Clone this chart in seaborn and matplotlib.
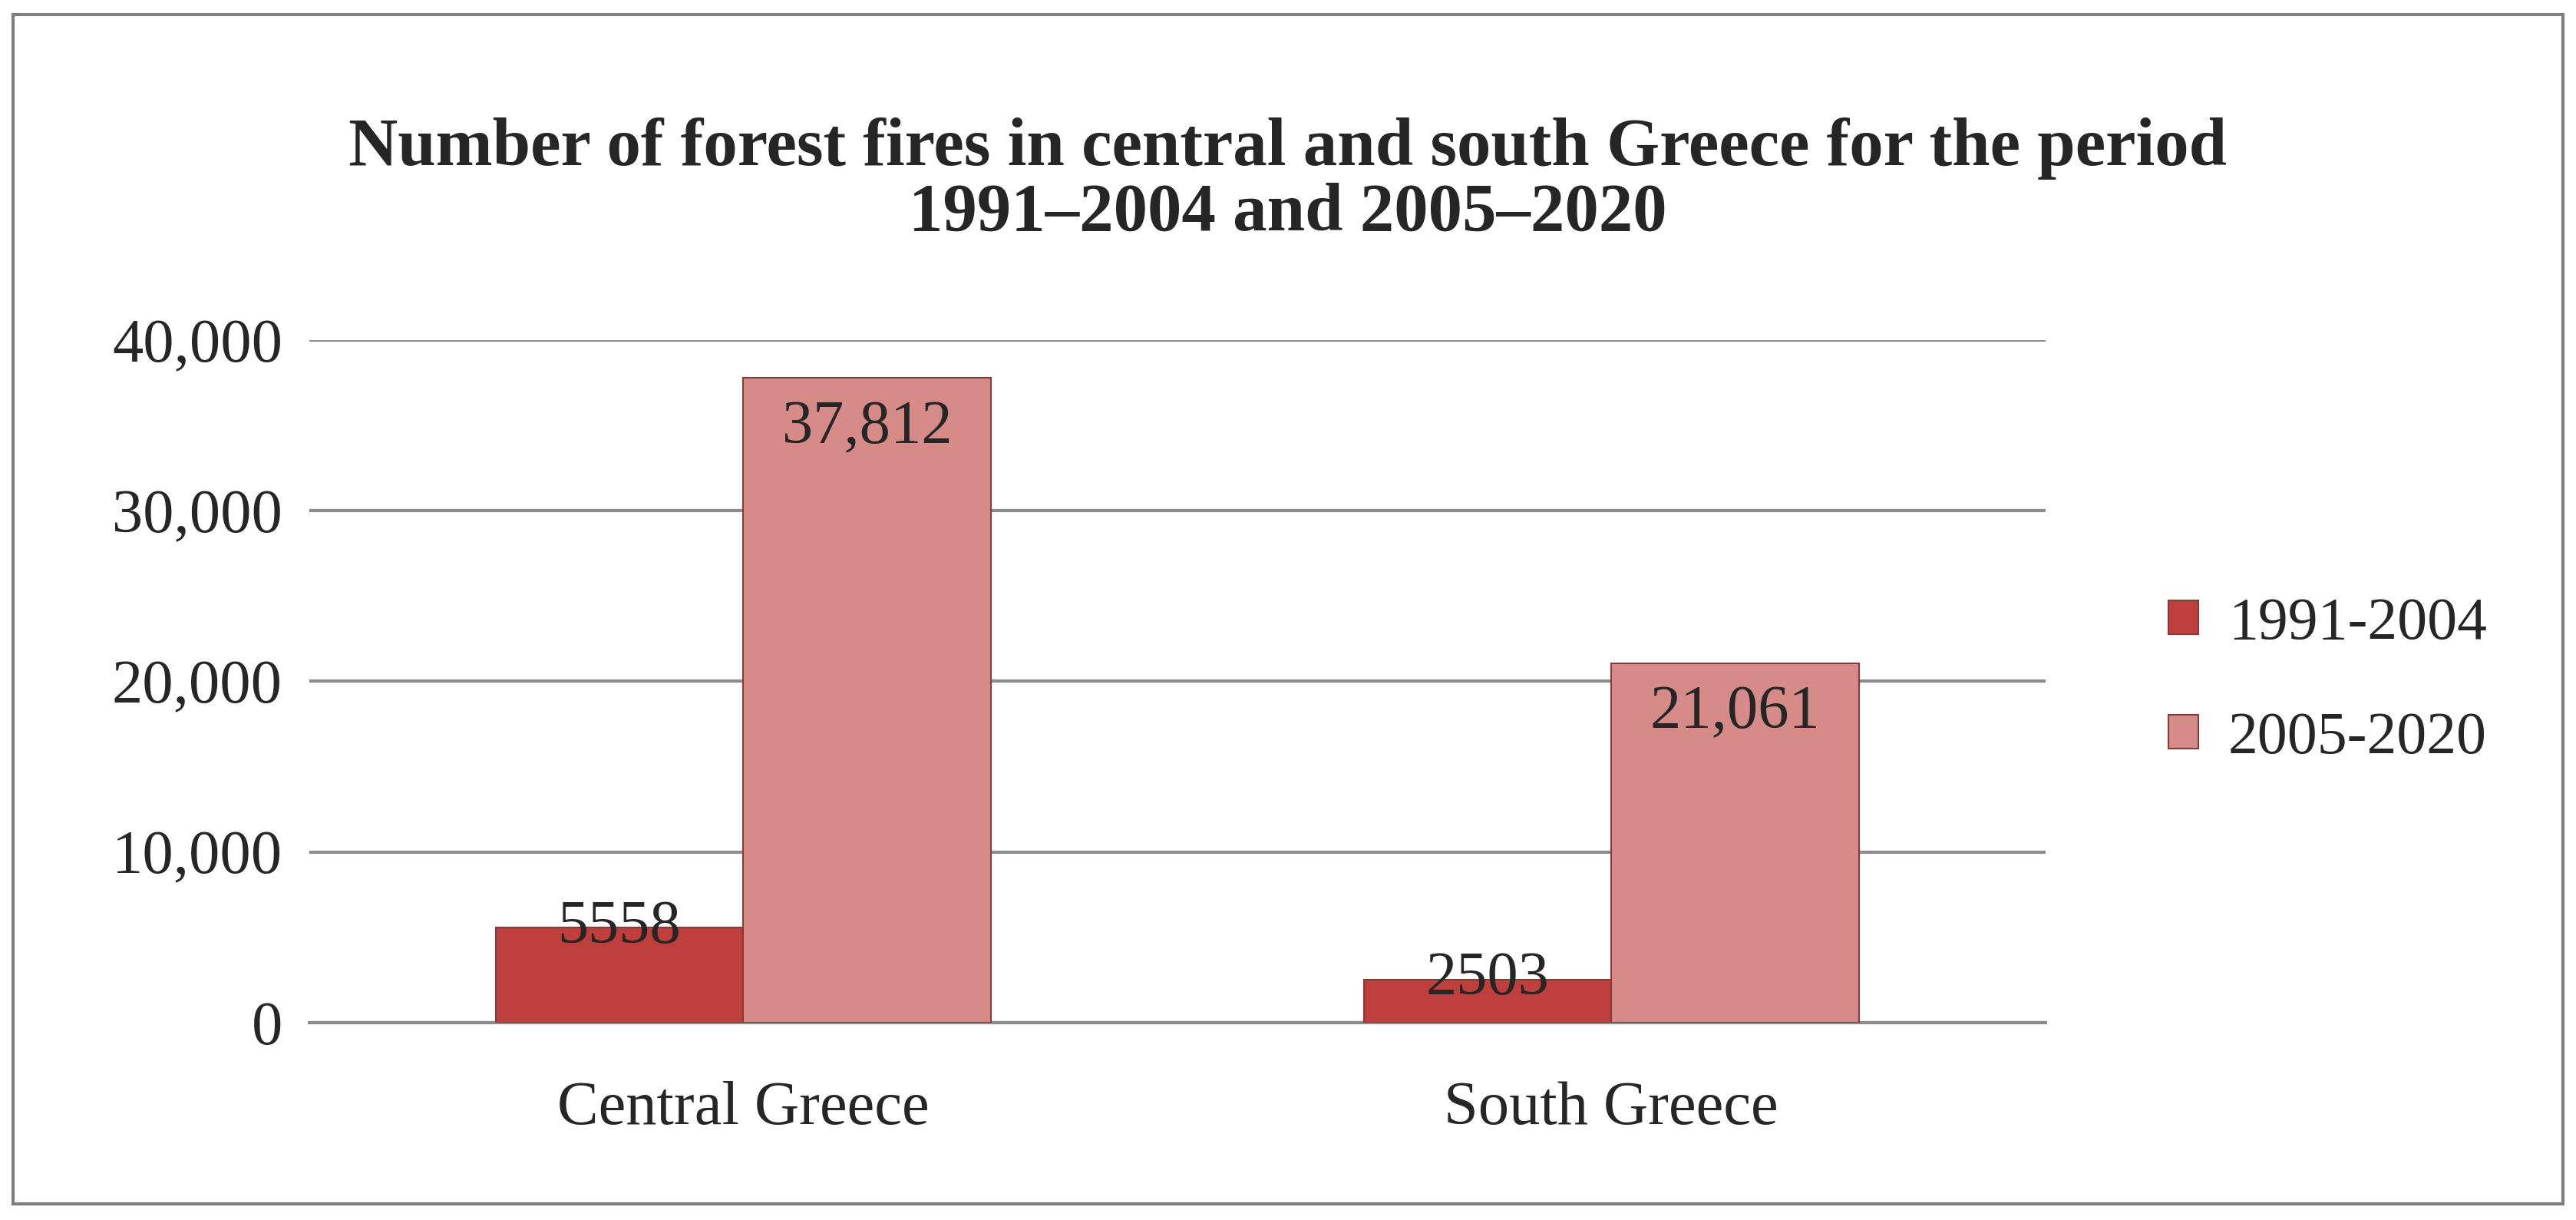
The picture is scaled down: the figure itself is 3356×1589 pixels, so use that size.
import matplotlib
matplotlib.use("Agg")
import matplotlib.pyplot as plt
import seaborn as sns
import pandas as pd
from matplotlib.patches import Rectangle

regions = ["Central Greece", "South Greece"]
periods = ["1991-2004", "2005-2020"]
v1991 = [5558, 2503]
v2005 = [37812, 21061]
labels1991 = ["5558", "2503"]
labels2005 = ["37,812", "21,061"]
yticks = [0, 10000, 20000, 30000, 40000]
ytick_labels = ["0", "10,000", "20,000", "30,000", "40,000"]

df = pd.DataFrame({
    "region": regions * 2,
    "period": [periods[0]] * 2 + [periods[1]] * 2,
    "value": v1991 + v2005,
})

sns.set_theme(style="white")
plt.rcParams['font.family'] = ['Liberation Serif', 'DejaVu Serif']

fig = plt.figure(figsize=(33.56, 15.89), dpi=100)
ax = fig.add_axes([0.12, 0.162, 0.674, 0.559])
colors = ["#bf3f3d", "#d68b89"]
sns.barplot(data=df, x="region", y="value", hue="period", palette=colors,
            saturation=1, width=0.57, ax=ax, edgecolor="#8a3a3a", linewidth=1.5, zorder=3)

ax.set_xlim(-0.5, 1.5)
ax.set_ylim(0, 40000)
ax.set_yticks(yticks)
ax.set_yticklabels(ytick_labels, fontsize=58)
ax.tick_params(axis='x', labelsize=58, pad=55, length=0)
ax.tick_params(axis='y', pad=25, length=0)
ax.yaxis.grid(True, color="#8c8c8c", linewidth=3, zorder=0)
ax.set_xlabel("")
ax.set_ylabel("")
for s in ["top", "right", "left"]:
    ax.spines[s].set_visible(False)
ax.spines["bottom"].set_color("#8c8c8c")
ax.spines["bottom"].set_linewidth(3)

for cont, labs, inside in zip(ax.containers, [labels1991, labels2005], [False, True]):
    for bar, lab in zip(cont, labs):
        x = bar.get_x() + bar.get_width() / 2
        h = bar.get_height()
        if inside:
            ax.text(x, h - 1300, lab, ha="center", va="top", fontsize=58, zorder=5)
        else:
            ax.text(x, h + 0, lab, ha="center", va="center", fontsize=58, zorder=5)

fig.text(0.5, 0.878, "Number of forest fires in central and south Greece for the period",
         ha="center", va="center", fontsize=64, fontweight="bold")
fig.text(0.5, 0.825, "1991\u20132004 and 2005\u20132020",
         ha="center", va="center", fontsize=64, fontweight="bold")

handles, _ = ax.get_legend_handles_labels()
ax.legend(handles, periods, loc="center left", bbox_to_anchor=(1.04, 0.5),
          frameon=False, fontsize=56, handlelength=0.5, handleheight=0.5,
          labelspacing=1.0, handletextpad=0.5)

fig.patches.append(Rectangle((0.005, 0.013), 0.99, 0.975, transform=fig.transFigure,
                             fill=False, edgecolor="#7f7f7f", linewidth=3))

fig.savefig("out.png", dpi=100)
